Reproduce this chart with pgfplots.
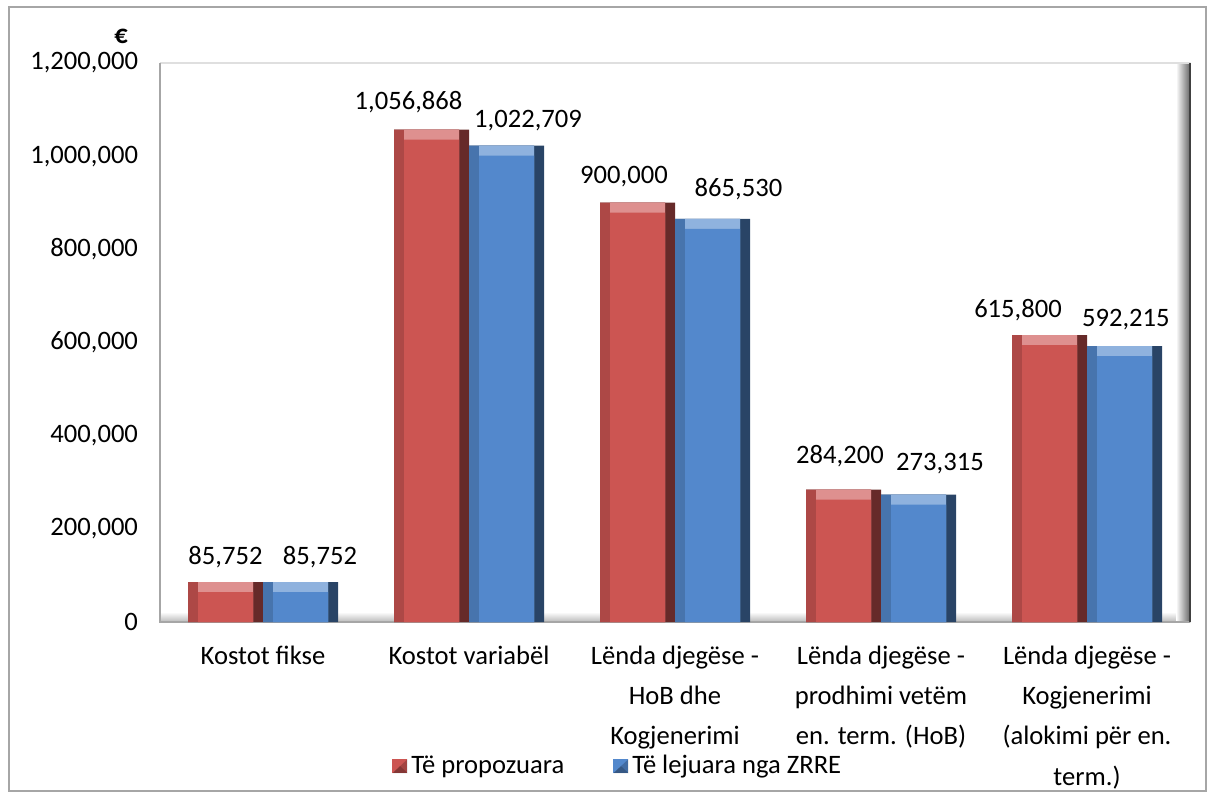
\documentclass[border=0pt]{standalone}
\usepackage{pgfplots}
\pgfplotsset{compat=1.18}
\usepackage{pgfplotstable}
\usepackage{fontspec}
\setmainfont{Carlito}
\definecolor{cred}{RGB}{204,85,82}
\definecolor{cblue}{RGB}{83,136,204}
\pgfplotstableread{
x y dx dy
0 85752 0 -1
1 1056868 -11.5 0.3
2 900000 -6.75 -0.35
3 284200 -1.75 3.3
4 615800 -15.75 -1.2
}\propozuara
\pgfplotstableread{
x y dx dy
0 85752 9.75 -1
1 1022709 10.75 -0.85
2 865530 13 1.15
3 273315 10.75 2.3
4 592215 0.65 -0.2
}\lejuara
\pgfplotsset{
 labels/.style={
  nodes near coords={\pgfmathprintnumber[fixed,precision=0,1000 sep={,},assume math mode=true]{\pgfplotspointmeta}},
  every node near coord/.append style={font=\fontsize{13.3}{16}\selectfont, anchor=base, inner sep=0pt, yshift=10pt+\dy pt, xshift=\dx pt, black},
  visualization depends on={\thisrow{dx} \as \dx},
  visualization depends on={\thisrow{dy} \as \dy},
 },
}
\begin{document}
\begin{tikzpicture}
\useasboundingbox (0,0) rectangle (607pt,399pt);
\draw[gray!70,line width=0.8pt] (4.5pt,3.5pt) rectangle (603pt,395.5pt);
\begin{axis}[
  at={(80pt,88pt)}, anchor=south west,
  scale only axis, width=515pt, height=279.5pt,
  ybar=0pt, bar width=37.5pt,
  xmin=-0.5, xmax=4.5, ymin=0, ymax=1200000,
  xtick={0,1,2,3,4},
  xticklabels={Kostot fikse, Kostot variabël, Lënda djegëse -\\HoB dhe\\Kogjenerimi, Lënda djegëse -\\prodhimi vetëm\\en. term. (HoB), Lënda djegëse -\\Kogjenerimi\\(alokimi për en.\\term.)},
  xticklabel style={align=center, font=\fontsize{13.3}{20.1}\selectfont, anchor=north, yshift=-8.5pt},
  ytick={0,200000,...,1200000},
  scaled y ticks=false,
  yticklabel style={font=\fontsize{13.3}{16}\selectfont, xshift=-7.5pt},
  /pgf/number format/.cd, fixed, 1000 sep={,}, assume math mode=true,
  /pgfplots/.cd,
  major tick length=0pt,
  axis line style={draw=none},
  legend style={draw=none, fill=none, at={(0.4455,-0.258)}, anchor=center, legend columns=2,
    font=\fontsize{13.3}{16}\selectfont,
    /tikz/every even column/.append style={column sep=22.5pt}},
  legend image code/.code={
     \fill[#1] (0pt,-3.5pt) rectangle (7.5pt,3.5pt);
     \fill[black,opacity=0.35] (0pt,-3.5pt) -- (3.75pt,0pt) -- (7.5pt,-3.5pt) -- cycle;
     \fill[black,opacity=0.2] (7.5pt,-3.5pt) -- (3.75pt,0pt) -- (7.5pt,3.5pt) -- cycle;},
  clip=false,
]
% 3D wall / floor decorations
\shade[top color=white, bottom color=gray!55] ([yshift=5pt]rel axis cs:0,0) rectangle (rel axis cs:1,0);
\shade[left color=white, right color=gray!80!black] ([xshift=-7pt]rel axis cs:1,0) rectangle (rel axis cs:1,1);
\draw[gray!25, line width=1pt] (rel axis cs:0,1) -- (rel axis cs:1,1);
\draw[gray!70, line width=1.2pt] (rel axis cs:0,1) -- (rel axis cs:0,0) -- (rel axis cs:1,0);
\draw[black!75, line width=1pt] (rel axis cs:1,0) -- (rel axis cs:1,1);
% red series (bevel built from layers)
\addplot[forget plot, fill=cred!50!black, draw=none, bar shift=-18.75pt, bar width=37.5pt, labels] table[x=x,y=y] {\propozuara};
\addplot[forget plot, fill=cred!85!black, draw=none, bar shift=-21.25pt, bar width=32.5pt] table[x=x,y=y] {\propozuara};
\addplot[forget plot, fill=cred!65!white, draw=none, bar shift=-18.75pt, bar width=27.5pt] table[x=x,y=y] {\propozuara};
\addplot[fill=cred, draw=none, bar shift=-18.75pt, bar width=27.5pt] table[x=x,y expr=\thisrow{y}-21467] {\propozuara};
% blue series
\addplot[forget plot, fill=cblue!50!black, draw=none, bar shift=18.75pt, bar width=37.5pt, labels] table[x=x,y=y] {\lejuara};
\addplot[forget plot, fill=cblue!85!black, draw=none, bar shift=16.25pt, bar width=32.5pt] table[x=x,y=y] {\lejuara};
\addplot[forget plot, fill=cblue!65!white, draw=none, bar shift=18.75pt, bar width=27.5pt] table[x=x,y=y] {\lejuara};
\addplot[fill=cblue, draw=none, bar shift=18.75pt, bar width=27.5pt] table[x=x,y expr=\thisrow{y}-21467] {\lejuara};
\legend{Të propozuara, Të lejuara nga ZRRE}
\end{axis}
\node[anchor=base east, font=\fontsize{13.3}{16}\selectfont\bfseries] at (67.5pt,377pt) {€};
\end{tikzpicture}
\end{document}
